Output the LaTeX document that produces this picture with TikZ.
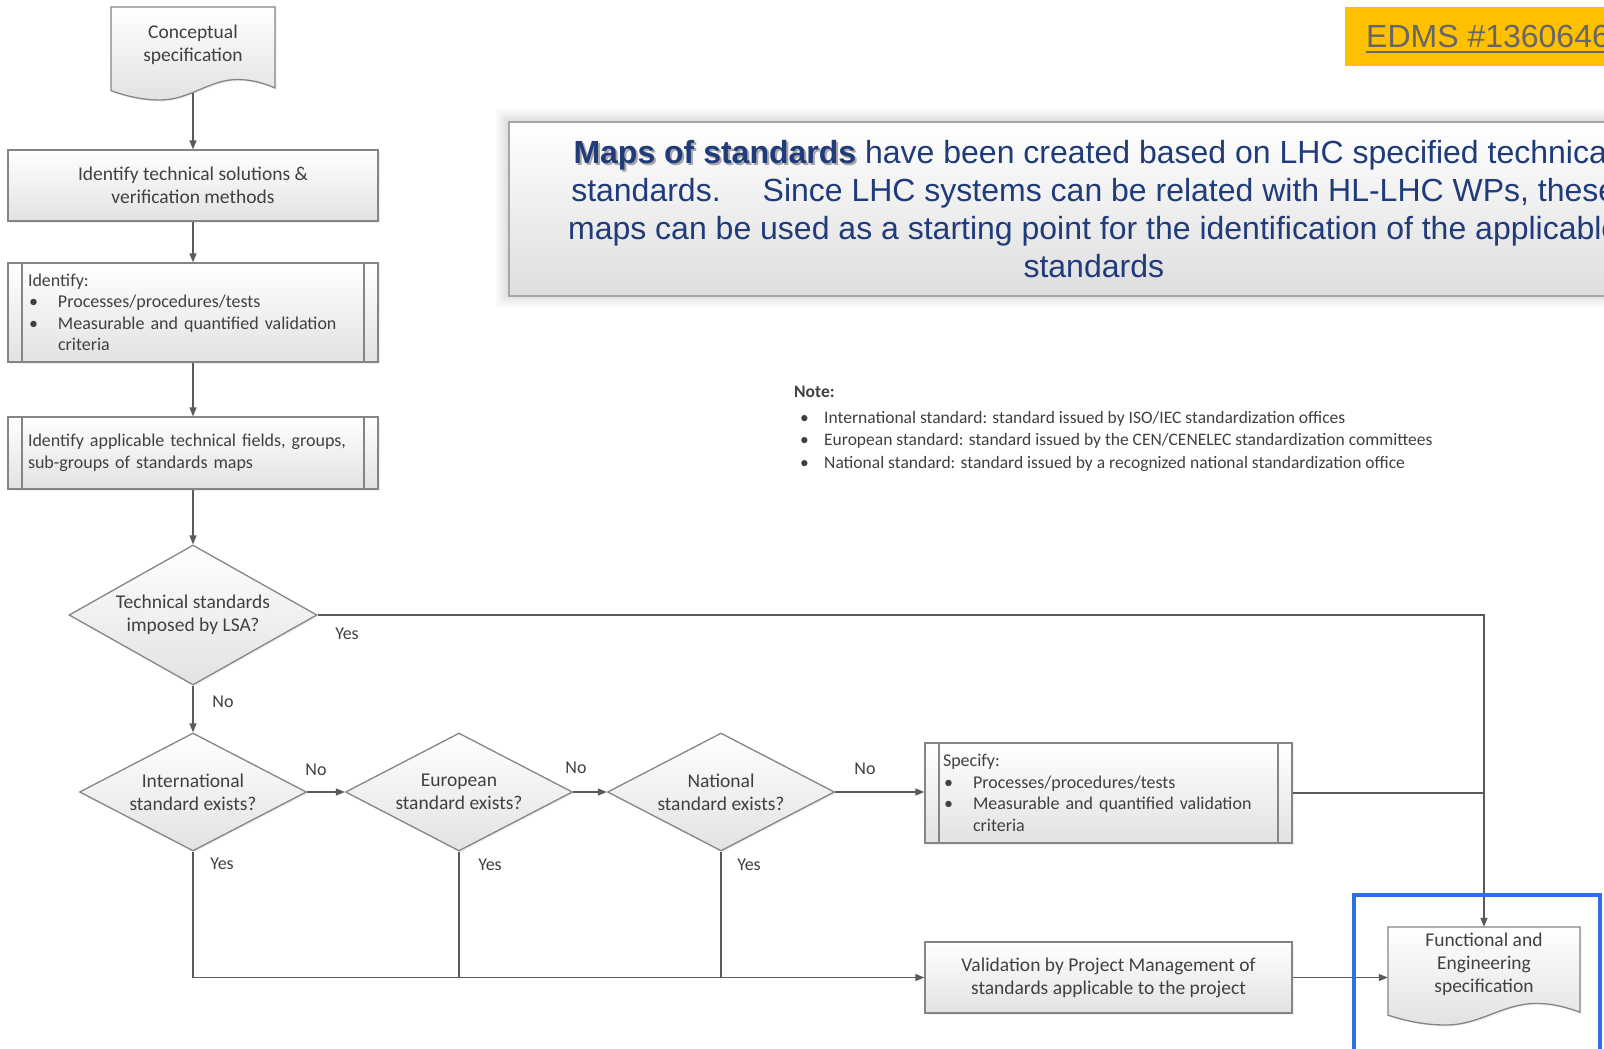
\documentclass[tikz,border=0pt]{standalone}
\usepackage{fontspec}
\setmainfont{Carlito}
\newfontfamily\arialfont{Liberation Sans}
\usetikzlibrary{shapes.geometric,arrows.meta,shadows}
\pgfdeclarelayer{back}
\pgfsetlayers{back,main}

\definecolor{cText}{HTML}{404040}
\definecolor{cEdge}{HTML}{858585}
\definecolor{cWire}{HTML}{5A5A5A}
\definecolor{cFill}{HTML}{E2E2E2}
\definecolor{cNavy}{HTML}{1F3B7A}
\definecolor{cAmber}{HTML}{FFC000}
\definecolor{cMark}{HTML}{2D6FE6}
\definecolor{cLink}{HTML}{666666}

% bullet with hanging indent
\newcommand\bul{\makebox[30pt][l]{\hspace{1pt}\textbullet}}
\newcommand\nbul{\makebox[30pt][l]{\hspace{6pt}\textbullet}}
% bold phrase with a soft offset shadow
\newcommand\shadowtext[1]{\makebox[0pt][l]{\hspace{2pt}\raisebox{-2pt}{\textcolor{black!35}{#1}}}#1}
% document symbol with a wavy lower edge: left, top, width, height
\newcommand\docoutline[4]{%
  \begin{scope}[shift={(#1,#2)}, x=#3pt, y=-#4pt]
    \path[docshape] (0,0) -- (1,0) -- (1,0.87)
      .. controls (0.93,0.82) and (0.86,0.78) .. (0.77,0.78)
      .. controls (0.60,0.78) and (0.48,1.00) .. (0.30,1.00)
      .. controls (0.18,1.00) and (0.08,0.95) .. (0,0.90) -- cycle;
  \end{scope}}

\begin{document}
\begin{tikzpicture}[x=1pt, y=-1pt,
  font=\fontsize{19.5}{23}\selectfont,
  flowshape/.style={draw=cEdge, line width=1.3pt, top color=white, bottom color=cFill,
    text=cText, drop shadow={opacity=0.12, shadow xshift=1.5pt, shadow yshift=-1.5pt}},
  stepbox/.style={flowshape, rectangle, align=center, inner sep=0pt},
  procbox/.style={flowshape, rectangle, align=left, inner ysep=0pt,
    font=\fontsize{18}{21.5}\selectfont,
    path picture={\draw[cEdge, line width=1.3pt]
      ([xshift=14pt]path picture bounding box.north west) -- ([xshift=14pt]path picture bounding box.south west)
      ([xshift=-14pt]path picture bounding box.north east) -- ([xshift=-14pt]path picture bounding box.south east);}},
  decision/.style={flowshape, diamond, align=center, inner sep=0pt},
  docshape/.style={draw=cEdge, line width=1.3pt, top color=white, bottom color=cFill,
    drop shadow={opacity=0.12, shadow xshift=1.5pt, shadow yshift=-1.5pt}},
  doctext/.style={align=center, text=cText, inner sep=0pt},
  conn/.style={draw=cWire, line width=1.3pt},
  arrowed/.style={conn, -{Triangle[length=9pt,width=7pt]}},
  lbl/.style={text=cText, font=\fontsize{18}{21}\selectfont, inner sep=0pt}
]
\useasboundingbox (0,0) rectangle (1604,1049);
\begin{pgfonlayer}{back}
\fill[white] (0,0) rectangle (1604,1049);
\end{pgfonlayer}
\clip (0,0) rectangle (1604,1049);

% ---- reference tag ----
\node[fill=cAmber, anchor=north west, minimum width=280, minimum height=59, inner sep=0pt] (tagbox) at (1345,7) {};
\node[anchor=base west, inner sep=0pt, text=cLink, font=\arialfont\fontsize{32}{38}\selectfont] (edms) at (1366,48) {EDMS \#1360646};
\draw[cLink, line width=2pt] ([yshift=-4pt]edms.base west) -- ([yshift=-4pt]edms.base east);

% ---- explanatory panel ----
\foreach \g in {2,4,...,12}
  \fill[black, opacity=0.018] (508-\g,121-\g) rectangle (1700+\g,295+\g);
\node[draw=black!35, line width=1.6pt, top color=white, bottom color=black!13,
  anchor=north west, minimum width=1170, minimum height=174, inner sep=0pt,
  align=center, text=cNavy, font=\arialfont\fontsize{32}{38}\selectfont] (maps) at (508,121)
  {\shadowtext{\textbf{Maps of standards}} have been created based on LHC specified technical\\
   standards.\hspace*{42pt}Since LHC systems can be related with HL-LHC WPs, these\\
   maps can be used as a starting point for the identification of the applicable\\
   standards};

% ---- note ----
\node[anchor=west, align=left, inner sep=0pt, text=cText, font=\fontsize{17.5}{22.5}\selectfont] (note) at (794,429)
  {\textbf{Note:}\\[3pt]
   \nbul International standard: standard issued by ISO/IEC standardization offices\\
   \nbul European standard: standard issued by the CEN/CENELEC standardization committees\\
   \nbul National standard: standard issued by a recognized national standardization office};

% ---- flow ----
\docoutline{111}{7}{164}{93}
\node[doctext, minimum width=164, minimum height=76] (cspec) at (193,45) {Conceptual\\specification};

\node[stepbox, minimum width=370, minimum height=71] (box1) at (193,185.5)
  {Identify technical solutions \&\\verification methods};
\node[procbox, text width=330, inner xsep=20pt, minimum height=99] (box2) at (193,312.5)
  {Identify:\\\bul Processes/procedures/tests\\\bul Measurable and quantified validation\\\hspace*{30pt}criteria};
\node[procbox, text width=330, inner xsep=20pt, minimum height=72] (box3) at (193,453)
  {Identify applicable technical fields, groups,\\sub-groups of standards maps};

\node[decision, minimum width=248, minimum height=140, shape aspect=1.77] (d1) at (193,615)
  {Technical standards\\imposed by LSA?};
\node[decision, minimum width=227, minimum height=118, shape aspect=1.93] (d2) at (193,792)
  {International\\standard exists?};
\node[decision, minimum width=227, minimum height=118, shape aspect=1.93] (d3) at (459,792)
  {European\\standard exists?};
\node[decision, minimum width=227, minimum height=118, shape aspect=1.93] (d4) at (721,792)
  {National\\standard exists?};

\node[procbox, text width=331, inner xsep=18pt, minimum height=100] (spec) at (1108.5,793)
  {Specify:\\\bul Processes/procedures/tests\\\bul Measurable and quantified validation\\\hspace*{30pt}criteria};
\node[stepbox, minimum width=367, minimum height=71] (val) at (1108.5,977.5)
  {Validation by Project Management of\\standards applicable to the project};

\docoutline{1388}{927}{192}{98}
\node[doctext, minimum width=192, minimum height=74] (fspec) at (1484,964)
  {Functional and\\Engineering\\specification};

% ---- branch labels ----
\node[lbl] (yes1) at (347,634) {Yes};
\node[lbl] (no1) at (223,702) {No};
\node[lbl] (no2) at (316,770) {No};
\node[lbl] (no3) at (576,768) {No};
\node[lbl] (no4) at (865,769) {No};
\node[lbl] (yes2) at (222,864) {Yes};
\node[lbl] (yes3) at (490,865) {Yes};
\node[lbl] (yes4) at (749,865) {Yes};

% ---- connectors ----
\begin{pgfonlayer}{back}
\draw[arrowed] (cspec.center) -- (cspec.center |- box1.north);
\draw[arrowed] (box1) -- (box2);
\draw[arrowed] (box2) -- (box3);
\draw[arrowed] (box3) -- (d1);
\draw[arrowed] (d1) -- (d2);
\draw[arrowed] (d2) -- (d3);
\draw[arrowed] (d3) -- (d4);
\draw[arrowed] (d4.east) -- (d4.east -| spec.west);
\draw[arrowed] (d1.east) -- (d1.east -| fspec.north) -- (fspec.north);
\draw[conn] (spec.east) -- (spec.east -| fspec.north);
\draw[arrowed] (d2.south) -- (d2.south |- val.west) -- (val.west);
\draw[conn] (d3.south) -- (d3.south |- val.west);
\draw[conn] (d4.south) -- (d4.south |- val.west);
\draw[arrowed] (val.east) -- (val.east -| fspec.west);
\end{pgfonlayer}

% ---- highlight frame ----
\draw[cMark, line width=4pt] (1354,895) rectangle (1600,1070);
\end{tikzpicture}
\end{document}
